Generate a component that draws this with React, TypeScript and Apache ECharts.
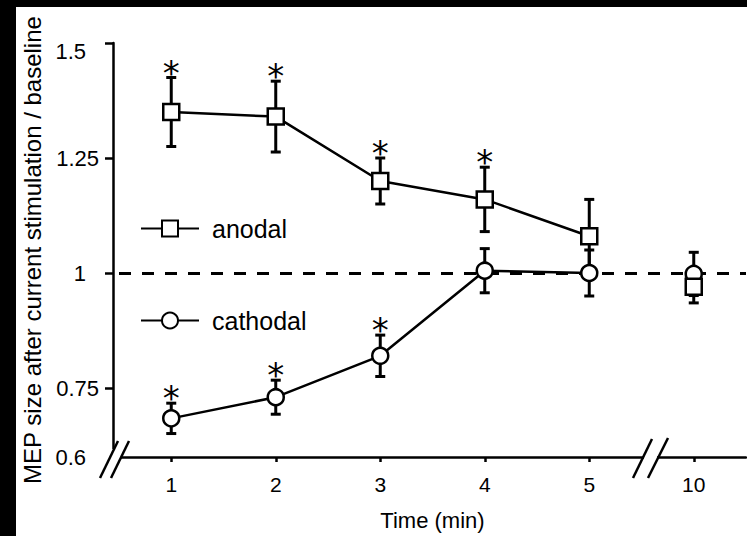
import React, { useEffect, useRef } from 'react';
import * as echarts from 'echarts';

// ---- data ----
const timeLabels = ['1', '2', '3', '4', '5', '10'];
const anodalMean = [1.35, 1.34, 1.2, 1.16, 1.08, 0.97];
const anodalErr = [0.075, 0.077, 0.05, 0.07, 0.08, 0.035];
const anodalSig = [true, true, true, true, false, false];
const cathodalMean = [0.684, 0.73, 0.82, 1.005, 1.0, 0.998];
const cathodalErr = [0.033, 0.037, 0.045, 0.048, 0.05, 0.047];
const cathodalSig = [true, true, true, false, false, false];
const yLabelValues = [0.6, 0.75, 1, 1.25, 1.5];
const yTickValues = [0.75, 1, 1.25, 1.5];
const baselineValue = 1;
const connectedCount = 5; // points 1..5 min joined by a line; 10 min stands alone

const FONT = "'Liberation Sans', Arial, Helvetica, sans-serif";

const errorRenderer = (params: any, api: any) => {
  const xi = api.value(0);
  const lo = api.coord([xi, api.value(1)]);
  const hi = api.coord([xi, api.value(2)]);
  const sig = api.value(3);
  const cap = 5;
  const style = { stroke: '#000', lineWidth: 3 };
  const children: any[] = [
    { type: 'line', shape: { x1: lo[0], y1: lo[1], x2: hi[0], y2: hi[1] }, style },
    { type: 'line', shape: { x1: hi[0] - cap, y1: hi[1], x2: hi[0] + cap, y2: hi[1] }, style },
    { type: 'line', shape: { x1: lo[0] - cap, y1: lo[1], x2: lo[0] + cap, y2: lo[1] }, style },
  ];
  if (sig) {
    children.push({
      type: 'text',
      x: hi[0],
      y: hi[1] - 5,
      style: {
        text: '*',
        fontSize: 34,
        fontFamily: 'DejaVu Sans',
        fill: '#000',
        align: 'center',
        verticalAlign: 'middle',
        textAlign: 'center',
        textVerticalAlign: 'middle',
      },
    });
  }
  return { type: 'group', children };
};

const errData = (mean: number[], err: number[], sig: boolean[]) =>
  mean.map((m, i) => [i, m - err[i], m + err[i], sig[i] ? 1 : 0]);

const markerStyle = { color: '#fff', borderColor: '#000', borderWidth: 2.5, opacity: 1 };
const lineStyle = { color: '#000', width: 2.5 };

export default function App() {
  const ref = useRef<HTMLDivElement>(null);
  useEffect(() => {
    const chart = echarts.init(ref.current!, null, { renderer: 'svg' });
    const option: any = {
      animation: false,
      backgroundColor: '#fff',
      textStyle: { fontFamily: FONT, color: '#000' },
      grid: { left: 119, right: 1, top: 43, bottom: 77, containLabel: false },
      legend: {
        data: ['anodal', 'cathodal'],
        orient: 'vertical',
        left: 140,
        top: 216,
        padding: 0,
        itemWidth: 58,
        itemHeight: 20,
        itemGap: 67,
        selectedMode: false,
        textStyle: { fontSize: 25, fontFamily: FONT, color: '#000', padding: [0, 0, 0, 8] },
      },
      xAxis: {
        type: 'category',
        data: timeLabels,
        boundaryGap: true,
        name: 'Time (min)',
        nameLocation: 'middle',
        nameGap: 52,
        nameTextStyle: { fontSize: 22, fontFamily: FONT, color: '#000' },
        axisLine: { show: true, lineStyle: { color: '#000', width: 2.5 } },
        axisTick: { show: true, alignWithLabel: true, length: 5, lineStyle: { color: '#000', width: 2.5 } },
        axisLabel: { fontSize: 21, fontFamily: FONT, color: '#000', margin: 17 },
        splitLine: { show: false },
      },
      yAxis: {
        type: 'value',
        min: 0.6,
        max: 1.5,
        position: 'left',
        offset: 6,
        name: 'MEP size after current stimulation / baseline',
        nameLocation: 'middle',
        nameRotate: 90,
        nameGap: 66,
        nameTextStyle: { fontSize: 24, fontFamily: FONT, color: '#000' },
        splitLine: { show: false },
        axisLine: { show: true, lineStyle: { color: '#000', width: 2.5 } },
        axisTick: { show: true, length: 8, customValues: yTickValues, lineStyle: { color: '#000', width: 2.5 } },
        axisLabel: {
          customValues: yLabelValues,
          margin: 14,
          color: '#000',
          formatter: (v: number) => {
            const s = String(v);
            if (v === 1.5) return `{top|${s}}`;
            if (s.length <= 3) return `{s|${s}}`;
            return `{n|${s}}`;
          },
          rich: {
            n: { fontSize: 22, fontFamily: FONT, color: '#000' },
            s: { fontSize: 22, fontFamily: FONT, color: '#000', padding: [0, 13, 0, 0] },
            top: { fontSize: 22, fontFamily: FONT, color: '#000', padding: [16, 13, 0, 0] },
          },
        },
      },
      series: [
        {
          type: 'custom',
          name: 'cathodal error',
          renderItem: errorRenderer,
          data: errData(cathodalMean, cathodalErr, cathodalSig),
          encode: { x: 0, y: [1, 2] },
          silent: true,
          z: 2,
        },
        {
          type: 'custom',
          name: 'anodal error',
          renderItem: errorRenderer,
          data: errData(anodalMean, anodalErr, anodalSig),
          encode: { x: 0, y: [1, 2] },
          silent: true,
          z: 2,
        },
        {
          type: 'line',
          name: 'cathodal',
          data: cathodalMean.slice(0, connectedCount),
          symbol: 'circle',
          symbolSize: 16,
          lineStyle,
          itemStyle: markerStyle,
          z: 3,
          markLine: {
            silent: true,
            z: 1,
            symbol: 'none',
            label: { show: false },
            lineStyle: { type: [12, 11], color: '#000', width: 3 },
            data: [{ yAxis: baselineValue }],
          },
        },
        {
          type: 'scatter',
          name: 'cathodal 10',
          data: cathodalMean.map((m, i) => [i, m]).slice(connectedCount),
          symbol: 'circle',
          symbolSize: 16,
          itemStyle: markerStyle,
          z: 3,
        },
        {
          type: 'line',
          name: 'anodal',
          data: anodalMean.slice(0, connectedCount),
          symbol: 'rect',
          symbolSize: 16,
          lineStyle,
          itemStyle: markerStyle,
          z: 3,
        },
        {
          type: 'scatter',
          name: 'anodal 10',
          data: anodalMean.map((m, i) => [i, m]).slice(connectedCount),
          symbol: 'rect',
          symbolSize: 16,
          itemStyle: markerStyle,
          z: 3,
        },
      ],
      graphic: [
        { type: 'rect', z: 100, shape: { x: 0, y: 0, width: 747, height: 7 }, style: { fill: '#000' } },
        { type: 'rect', z: 100, shape: { x: 0, y: 0, width: 16, height: 536 }, style: { fill: '#000' } },
        // left axis break
        { type: 'rect', z: 100, shape: { x: 106, y: 449, width: 15, height: 14 }, style: { fill: '#fff' } },
        { type: 'line', z: 101, shape: { x1: 100, y1: 478, x2: 118, y2: 441 }, style: { stroke: '#000', lineWidth: 2.5 } },
        { type: 'line', z: 101, shape: { x1: 111, y1: 478, x2: 129, y2: 441 }, style: { stroke: '#000', lineWidth: 2.5 } },
        // x axis break between 5 and 10
        { type: 'rect', z: 100, shape: { x: 644, y: 454, width: 13, height: 9 }, style: { fill: '#fff' } },
        { type: 'line', z: 101, shape: { x1: 633, y1: 478, x2: 652, y2: 439 }, style: { stroke: '#000', lineWidth: 2.5 } },
        { type: 'line', z: 101, shape: { x1: 648, y1: 478, x2: 668, y2: 438 }, style: { stroke: '#000', lineWidth: 2.5 } },
      ],
    };
    chart.setOption(option);
    return () => chart.dispose();
  }, []);
  return (
    <div
      ref={ref}
      style={{ position: 'fixed', left: 0, top: 0, width: 747, height: 536, background: '#fff' }}
    />
  );
}
